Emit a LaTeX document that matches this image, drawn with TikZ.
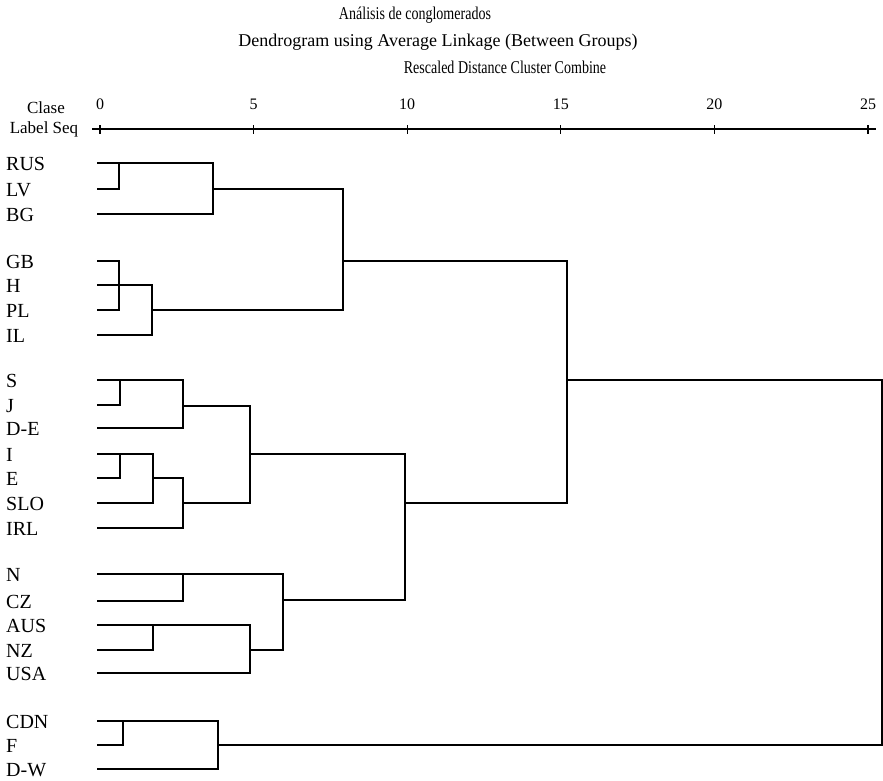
\documentclass[tikz,border=0pt]{standalone}
\usepackage{fontspec}
\setmainfont{Liberation Serif}
\tikzset{
  leaf/.style={anchor=base west, inner sep=0pt, font=\fontsize{20}{20}\selectfont},
  ticklabel/.style={inner sep=0pt, font=\fontsize{16}{16}\selectfont},
  axislabel/.style={inner sep=0pt, font=\fontsize{17}{17}\selectfont},
  titleline/.style={inner sep=0pt, font=\fontsize{18}{18}\selectfont},
  branch/.style={line width=1.2pt},
}
% join two clusters at distance #3, new tip #4 at row #5
\newcommand{\merge}[5]{%
  \draw[branch] (#1) -- (#1 -| #3,0) -- (#2 -| #3,0) -- (#2);
  \coordinate (#4) at (#3,#5);}

\begin{document}
\begin{tikzpicture}[x=1pt,y=-1pt]
      \useasboundingbox (0,0) rectangle (883,780);
      % titles
      \node[titleline, xscale=0.78] (title) at (415,15) {Análisis de conglomerados};
      \node[titleline] (method) at (438,42) {Dendrogram using Average Linkage (Between Groups)};
      \node[titleline, xscale=0.78] (rescaled) at (505,67) {Rescaled Distance Cluster Combine};
      % axis
      \node[axislabel] (clase) at (46,108) {Clase};
      \node[axislabel] (labelseq) at (44,129) {Label Seq};
      \coordinate (ax0) at (92,129);
      \coordinate (ax1) at (876,129);
      \draw[branch] (ax0) -- (ax1);
      \foreach \k in {0,5,...,25} {
        \draw[branch] (100+30.72*\k,125) -- ++(0,9);
        \node[ticklabel] (t\k) at (100+30.72*\k,104) {\k};
      }
      % leaves
      \foreach \n/\t/\r in {rus/RUS/163, lv/LV/189, bg/BG/214,
          gb/GB/261, h/H/285, pl/PL/310, il/IL/335,
          s/S/380, j/J/405, de/D-E/428, i/I/454, e/E/478, slo/SLO/503, irl/IRL/528,
          n/N/574, cz/CZ/601, aus/AUS/625, nz/NZ/650, usa/USA/673,
          cdn/CDN/721, f/F/745, dw/D-W/769} {
        \node[leaf] (lbl-\n) at (6,\r+7) {\t};
        \coordinate (\n) at (97,\r);
      }
      % RUS ... IL
      \merge{rus}{lv}{119}{a1}{163}
      \merge{a1}{bg}{213}{a2}{189}
      \merge{gb}{pl}{119}{b1}{285}
      \draw[branch] (h) -- (b1);
      \merge{b1}{il}{152}{b2}{310}
      \merge{a2}{b2}{343}{a3}{261}
      % S ... USA
      \merge{s}{j}{120}{c1}{380}
      \merge{c1}{de}{183}{c2}{406}
      \merge{i}{e}{120}{d1}{454}
      \merge{d1}{slo}{153}{d2}{478}
      \merge{d2}{irl}{183}{d3}{503}
      \merge{c2}{d3}{250}{c3}{454}
      \merge{n}{cz}{183}{e1}{574}
      \merge{aus}{nz}{153}{f1}{625}
      \merge{f1}{usa}{250}{f2}{650}
      \merge{e1}{f2}{283}{e2}{600}
      \merge{c3}{e2}{405}{g1}{503}
      \merge{a3}{g1}{567}{r1}{380}
      % CDN ... D-W
      \merge{cdn}{f}{123}{h1}{721}
      \merge{h1}{dw}{218}{h2}{745}
      \merge{r1}{h2}{882}{r2}{560}
    \end{tikzpicture}
\end{document}
